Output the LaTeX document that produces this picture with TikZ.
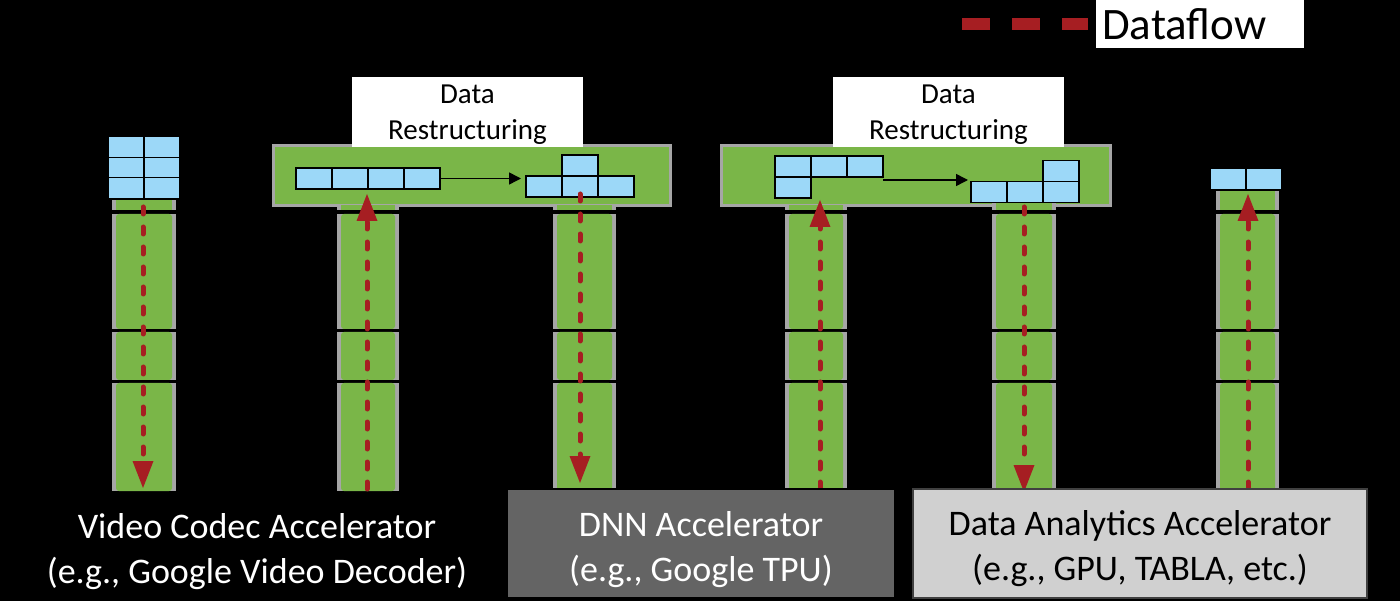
\documentclass[tikz,border=0pt]{standalone}
\usepackage{fontspec}
\setmainfont{Carlito}
\usepackage{tikz}
\usetikzlibrary{arrows.meta,positioning}

\definecolor{padgreen}{HTML}{7AB648}
\definecolor{padgray}{HTML}{A6A6A6}
\definecolor{cellblue}{HTML}{9CD8F8}
\definecolor{flowred}{HTML}{A61E22}
\definecolor{dnngray}{HTML}{646464}
\definecolor{dagray}{HTML}{D0D0D0}

\begin{document}
\begin{tikzpicture}[x=1pt,y=-1pt,
		cell/.style = {shape=rectangle, draw=black, line width=1.3pt,
		fill=cellblue, minimum width=36pt, minimum height=21pt, inner sep=0pt},
		flow/.style = {draw=flowred, line width=5pt, line cap=round,
		dash pattern=on 7pt off 13pt,
		-{Triangle[length=27pt,width=21pt,line width=0pt]}},
		reshape/.style = {draw=black, line width=1.5pt,
		-{Triangle[length=12pt,width=12pt]}},
		restruct/.style = {shape=rectangle, fill=white, align=center,
		minimum width=231pt, minimum height=70pt, inner sep=0pt,
		text height=59pt, font=\fontsize{29}{36}\selectfont},
		accel/.style = {shape=rectangle, align=center, line width=2pt,
		minimum height=109pt, inner sep=0pt, text height=82pt,
		font=\fontsize{36}{45}\selectfont}]

	\useasboundingbox (0,0) rectangle (1400,601);
	\fill[black] (0,0) rectangle (1400,601);

	% platforms
	\draw[padgray, line width=3pt, fill=padgreen] (273.5,145.5) rectangle (670.5,205.5);
	\draw[padgray, line width=3pt, fill=padgreen] (721.5,145.5) rectangle (1110.5,205.5);

	% pillars
	\foreach \xl/\xr/\yt in {112/176/200, 337/399/205, 553/616/205, 785/847/205, 992/1056/203, 1216/1279/191} {
		\fill[padgray] (\xl,\yt) rectangle (\xr,210);
		\fill[padgreen] (\xl+4,\yt) rectangle (\xr-4,210);
		\foreach \ya/\yb in {214/329, 332/380, 383/491} {
			\fill[padgray] (\xl,\ya) rectangle (\xr,\yb);
			\fill[padgreen, rounded corners=3pt] (\xl+4,\ya) rectangle (\xr-4,\yb);
		}
	}

	% data restructuring boxes
	\node[restruct] (rs1) at (467.5,112) {Data\\Restructuring};
	\node[restruct] (rs2) at (948.5,112) {Data\\Restructuring};
	\draw[white, line width=1.5pt] (rs1.north west) ++(0,4) -- ++(231,0);
	\draw[white, line width=1.5pt] (rs2.north west) ++(0,4) -- ++(231,0);

	% video codec tiles
	\foreach \r in {1,2,3}
		\foreach \c in {1,2}
			\node[cell, minimum height=20.5pt] (vc-\r-\c) at ({90+36*\c},{126.5+20.5*\r}) {};

	% first reshaping
	\foreach \c in {1,...,4}
		\node[cell] (ra-\c) at ({278+36*\c},178.5) {};
	\foreach \c in {1,2,3}
		\node[cell] (ta-\c) at ({508+36*\c},186.5) {};
	\node[cell] (ta-top) at (580,165.5) {};
	\coordinate (ra-end) at (521,178.5);
	\draw[reshape] (ra-4.east) -- (ra-end);

	% second reshaping
	\foreach \c in {1,2,3}
		\node[cell] (lb-\c) at ({757+36*\c},166.5) {};
	\node[cell] (lb-low) at (793,187.5) {};
	\foreach \c in {1,2,3}
		\node[cell] (tb-\c) at ({953+36*\c},192) {};
	\node[cell] (tb-top) at (1061,171) {};
	\coordinate (lb-start) at (883,180);
	\coordinate (lb-end) at (968,180);
	\draw[reshape] (lb-start) -- (lb-end);

	% data analytics tiles
	\foreach \c in {1,2}
		\node[cell] (da-\c) at ({1192+36*\c},179) {};

	% dataflow
	\coordinate (p1s) at (143,207);  \coordinate (p1e) at (143,488);
	\coordinate (p2s) at (367,489);  \coordinate (p2e) at (367,194);
	\coordinate (p3s) at (580,194);  \coordinate (p3e) at (580,483);
	\coordinate (p4s) at (820,489);  \coordinate (p4e) at (820,200);
	\coordinate (p5s) at (1024,207); \coordinate (p5e) at (1024,492);
	\coordinate (p6s) at (1248,489); \coordinate (p6e) at (1248,194);
	\foreach \p in {1,...,6}
		\draw[flow] (p\p s) -- (p\p e);

	% accelerators
	\node[accel, draw=black, fill=dnngray, text=white, minimum width=388pt] (dnn) at (701,543.5)
		{DNN Accelerator\\(e.g., Google TPU)};
	\node[accel, draw=black!75, fill=dagray, text=black, minimum width=454pt] (da) at (1140,543)
		{Data Analytics Accelerator\\(e.g., GPU, TABLA, etc.)};
	\node[accel, text=white] (vc) at (257,546)
		{Video Codec Accelerator\\(e.g., Google Video Decoder)};

	% legend
	\node[shape=rectangle, fill=white, anchor=west, text width=196pt, align=left,
		inner xsep=6pt, minimum height=48pt,
		font=\fontsize{45}{54}\selectfont] (legend) at (1096,24) {Dataflow};
	\coordinate (lg-a) at (962,24);
	\coordinate (lg-b) at (1088,24);
	\draw[flowred, line width=12pt, dash pattern=on 28pt off 22pt] (lg-a) -- (lg-b);
\end{tikzpicture}
\end{document}
